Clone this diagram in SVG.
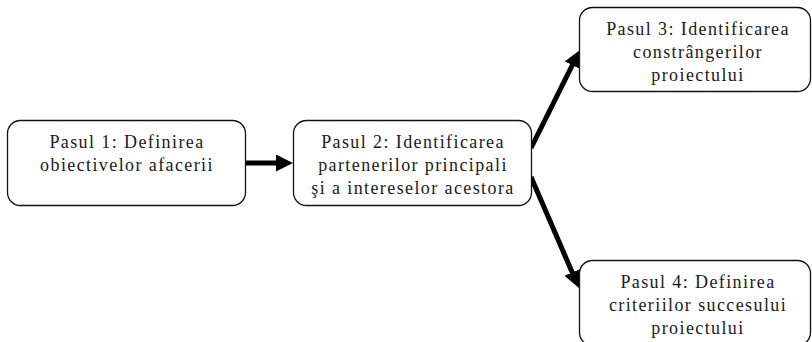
<svg xmlns="http://www.w3.org/2000/svg" width="812" height="342" viewBox="0 0 812 342">
<style>
.box{fill:#fff;stroke:#111;stroke-width:1.3}
.t{font-family:"Liberation Serif","Times New Roman",serif;font-size:18px;letter-spacing:1.4px;fill:#1a1a1a;text-anchor:middle}
.c{stroke:#000;stroke-width:5;fill:none;marker-end:url(#ah)}
</style>
<defs>
<marker id="ah" markerUnits="userSpaceOnUse" markerWidth="18" markerHeight="17" refX="5" refY="8.5" orient="auto">
<path d="M0,0 L17,8.5 L0,17 z" fill="#000"/>
</marker>
</defs>
<rect width="812" height="342" fill="#fff"/>
<g id="connectors">
<line class="c" x1="245" y1="163" x2="281" y2="163"/>
<line class="c" x1="531" y1="148" x2="574.6" y2="60.7"/>
<line class="c" x1="531" y1="177" x2="574.2" y2="277"/>
</g>
<g id="step1">
<rect class="box" x="7.5" y="120.5" width="238" height="85" rx="13"/>
<text class="t" x="127" y="147.5">Pasul 1: Definirea</text>
<text class="t" x="127" y="170.5">obiectivelor afacerii</text>
</g>
<g id="step2">
<rect class="box" x="293.5" y="120.5" width="238" height="85" rx="13"/>
<text class="t" x="413" y="147.5">Pasul 2: Identificarea</text>
<text class="t" x="413" y="170.5">partenerilor principali</text>
<text class="t" x="413" y="193.5">şi a intereselor acestora</text>
</g>
<g id="step3">
<rect class="box" x="579.5" y="7.5" width="231" height="84" rx="13"/>
<text class="t" x="698" y="34.5">Pasul 3: Identificarea</text>
<text class="t" x="698" y="57.5">constrângerilor</text>
<text class="t" x="698" y="80.5">proiectului</text>
</g>
<g id="step4">
<rect class="box" x="579.5" y="260.5" width="231" height="85" rx="13"/>
<text class="t" x="698" y="287.5">Pasul 4: Definirea</text>
<text class="t" x="698" y="310.5">criteriilor succesului</text>
<text class="t" x="698" y="333.5">proiectului</text>
</g>
</svg>
